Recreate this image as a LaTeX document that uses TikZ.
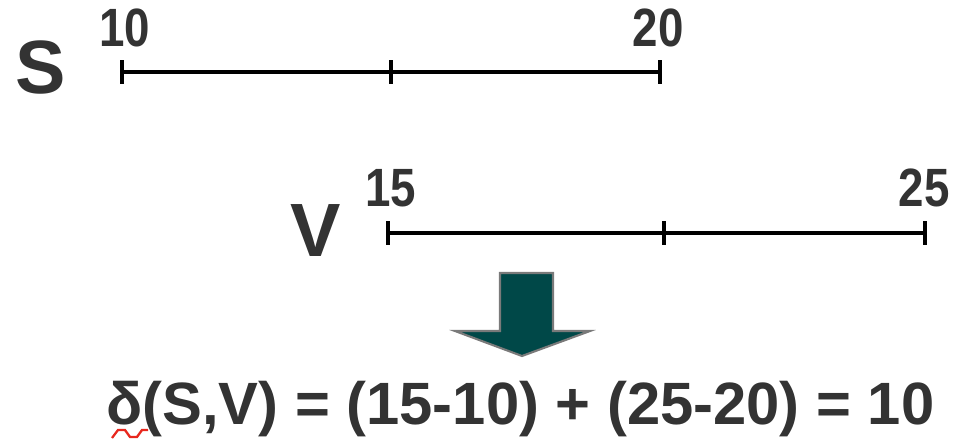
\documentclass[tikz,border=0pt]{standalone}
\usepackage{fontspec}
\setmainfont{Liberation Sans}
\usetikzlibrary{positioning}
\definecolor{setink}{HTML}{333333}
\definecolor{arrowfill}{HTML}{004848}
\definecolor{arrowedge}{HTML}{7A7A7A}
\definecolor{spellred}{HTML}{E8281E}
\newcommand{\tallnum}[1]{\scalebox{1}[1.18]{#1}}

\begin{document}
\begin{tikzpicture}[
  x=0.02cm,
  y=-0.02cm,
  every node/.style={font=\bfseries, setink, inner sep=0pt},
  setname/.style={font=\fontsize{43}{43}\selectfont\bfseries},
  endlabel/.style={font=\fontsize{26}{26}\selectfont\bfseries, anchor=base},
  formula/.style={font=\fontsize{34}{34}\selectfont\bfseries, anchor=base west},
  interval/.style={black, line width=2.2pt},
  tick/.style={black, line width=2.2pt},
  bigarrow/.style={fill=arrowfill, draw=arrowedge, line width=1.2pt}
]
  % ---- page, the size of the reference --------------------------------
  \useasboundingbox (0,0) rectangle (960,439);

  % ---- the interval S from 10 to 20 -----------------------------------
  \node[setname, anchor=base] (sname) at (41,93) {S};
  \coordinate (s10) at (122,72);
  \coordinate (smid) at (391,72);
  \coordinate (s20) at (660,72);
  \draw[interval] (s10) -- (s20);
  \foreach \p in {s10,smid,s20}
    \draw[tick] ([yshift=0.24cm]\p) -- ([yshift=-0.24cm]\p);
  \node[endlabel] (slow) at (125,47) {\tallnum{10}};
  \node[endlabel] (shigh) at (658,47) {\tallnum{20}};

  % ---- the interval V from 15 to 25 -----------------------------------
  \node[setname, anchor=base] (vname) at (316,256) {V};
  \coordinate (v15) at (388,233);
  \coordinate (vmid) at (664,233);
  \coordinate (v25) at (925,233);
  \draw[interval] (v15) -- (v25);
  \foreach \p in {v15,vmid,v25}
    \draw[tick] ([yshift=0.24cm]\p) -- ([yshift=-0.24cm]\p);
  \node[endlabel] (vlow) at (391,206) {\tallnum{15}};
  \node[endlabel] (vhigh) at (924,206) {\tallnum{25}};

  % ---- the block arrow down to the result ------------------------------
  \draw[bigarrow] (500,273) -- (553,273) -- (553,331) -- (590,331)
    -- (522,356) -- (455,331) -- (500,331) -- cycle;

  % ---- the distance ---------------------------------------------------
  \node[formula] (dist) at (106,424)
    {δ(S,V) = (15-10) + (25-20) = 10};
  \draw[spellred, line width=1.3pt] (112,438) -- (118,430) -- (125,430)
    -- (130,437) -- (137,437) -- (142,430) -- (148,430);
\end{tikzpicture}
\end{document}
